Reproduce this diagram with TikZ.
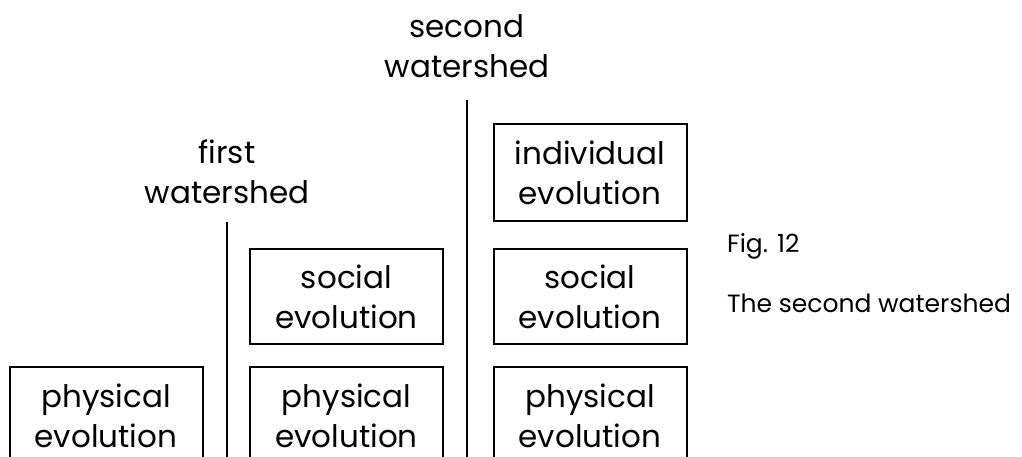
\documentclass[tikz,border=0pt]{standalone}
\usepackage{fontspec}
\setmainfont{Poppins}
\begin{document}
\begin{tikzpicture}[x=1pt,y=-1pt,
 box/.style={draw, line width=2pt, minimum width=193pt, minimum height=95pt, align=center, inner sep=0pt, anchor=north, font=\fontsize{31}{40}\selectfont},
 lbl/.style={align=center, inner sep=0pt, font=\fontsize{31}{40}\selectfont},
 capt/.style={anchor=base west, inner sep=0pt, font=\fontsize{25}{28}\selectfont},
 wline/.style={line width=2pt}]
\useasboundingbox (0,0) rectangle (1022,457);
% labels
\node[lbl] (l2) at (467,46) {second\\watershed};
\node[lbl] (l1) at (227,172) {first\\watershed};
% watershed lines
\coordinate (w1t) at (227,222);
\coordinate (w1b) at (227,475);
\coordinate (w2t) at (467,100);
\coordinate (w2b) at (467,475);
\draw[wline] (w1t) -- (w1b);
\draw[wline] (w2t) -- (w2b);
% boxes
\node[box, minimum height=97pt] (p1) at (106,366) {physical\\evolution};
\node[box, minimum height=97pt] (p2) at (346.5,366) {physical\\evolution};
\node[box, minimum height=97pt] (p3) at (590,366) {physical\\evolution};
\node[box] (s2) at (346.5,248) {social\\evolution};
\node[box] (s3) at (590,248) {social\\evolution};
\node[box, minimum height=97pt] (i3) at (590,123) {individual\\evolution};
% caption
\node[capt] (fig) at (727,252) {Fig. 12};
\node[capt] (ttl) at (727,312) {The second watershed};
\end{tikzpicture}
\end{document}
